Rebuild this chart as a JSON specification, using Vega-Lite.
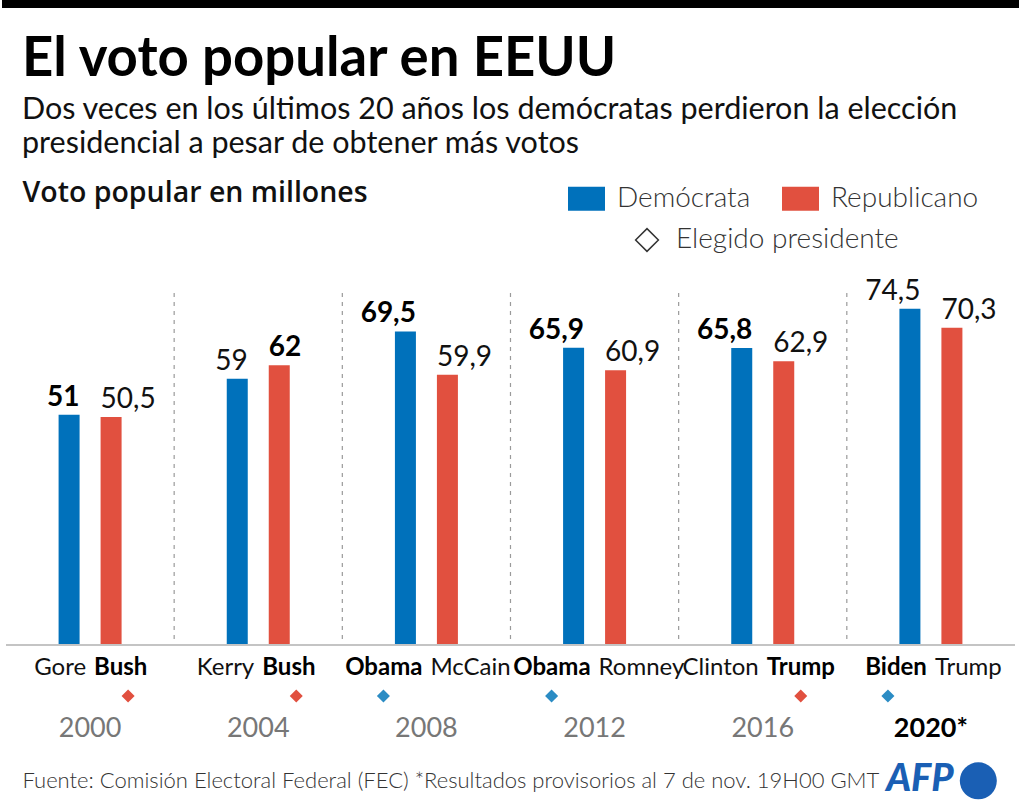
{
  "$schema": "https://vega.github.io/schema/vega-lite/v6.json",
  "width": 1009,
  "height": 361,
  "autosize": {"type": "none"},
  "padding": {"left": 6, "top": 284, "right": 5, "bottom": 167},
  "background": "white",
  "config": {
    "font": "Lato",
    "view": {"stroke": null},
    "locale": {"number": {"decimal": ",", "thousands": ".", "grouping": [3], "currency": ["", " €"]}}
  },
  "title": {
    "text": "El voto popular en EEUU",
    "subtitle": ["Dos veces en los últimos 20 años los demócratas perdieron la elección", "presidencial a pesar de obtener más votos"],
    "anchor": "start",
    "frame": "group",
    "dx": 16,
    "dy": 180,
    "offset": 18,
    "font": "Lato",
    "fontSize": 54.5,
    "fontWeight": "bold",
    "color": "#000000",
    "subtitleFont": "Lato",
    "subtitleFontSize": 30.5,
    "subtitleColor": "#111111",
    "subtitleLineHeight": 34,
    "subtitlePadding": 7
  },
  "data": {
    "values": [
      {"anio": "2000", "partido": "Demócrata", "candidato": "Gore", "votos": 51, "electo": false, "mayoria": true},
      {"anio": "2000", "partido": "Republicano", "candidato": "Bush", "votos": 50.5, "electo": true, "mayoria": false},
      {"anio": "2004", "partido": "Demócrata", "candidato": "Kerry", "votos": 59, "electo": false, "mayoria": false},
      {"anio": "2004", "partido": "Republicano", "candidato": "Bush", "votos": 62, "electo": true, "mayoria": true},
      {"anio": "2008", "partido": "Demócrata", "candidato": "Obama", "votos": 69.5, "electo": true, "mayoria": true},
      {"anio": "2008", "partido": "Republicano", "candidato": "McCain", "votos": 59.9, "electo": false, "mayoria": false},
      {"anio": "2012", "partido": "Demócrata", "candidato": "Obama", "votos": 65.9, "electo": true, "mayoria": true},
      {"anio": "2012", "partido": "Republicano", "candidato": "Romney", "votos": 60.9, "electo": false, "mayoria": false},
      {"anio": "2016", "partido": "Demócrata", "candidato": "Clinton", "votos": 65.8, "electo": false, "mayoria": true},
      {"anio": "2016", "partido": "Republicano", "candidato": "Trump", "votos": 62.9, "electo": true, "mayoria": false},
      {"anio": "2020*", "partido": "Demócrata", "candidato": "Biden", "votos": 74.5, "electo": true, "mayoria": false},
      {"anio": "2020*", "partido": "Republicano", "candidato": "Trump", "votos": 70.3, "electo": false, "mayoria": false}
    ]
  },
  "layer": [
    {
      "mark": {"type": "rule", "color": "#000000", "strokeWidth": 8, "strokeCap": "square"},
      "encoding": {"y": {"datum": 142.1}}
    },
    {
      "transform": [{"filter": "datum.anio != '2000' && datum.partido == 'Demócrata'"}],
      "mark": {"type": "rule", "color": "#9a9a9a", "strokeWidth": 1.2, "strokeDash": [4, 5]},
      "encoding": {
        "x": {"field": "anio", "type": "nominal", "bandPosition": 0},
        "xOffset": {"value": -10.6},
        "y": {"datum": 78},
        "y2": {"datum": 0}
      }
    },
    {
      "mark": {"type": "bar"},
      "encoding": {
        "x": {
          "field": "anio",
          "type": "nominal",
          "scale": {"paddingInner": 0.1259, "paddingOuter": 0.063},
          "axis": {
            "title": "Fuente: Comisión Electoral Federal (FEC) *Resultados provisorios al 7 de nov. 19H00 GMT",
            "titleFont": "Lato",
            "titleFontSize": 22,
            "titleFontWeight": 300,
            "titleColor": "#333333",
            "titleAlign": "left",
            "titleAnchor": "start",
            "titleBaseline": "alphabetic",
            "titleX": 16,
            "titleY": 142,
            "domain": false,
            "ticks": false,
            "tickSize": 0,
            "labelAngle": 0,
            "labelAlign": "center",
            "labelBaseline": "alphabetic",
            "labelPadding": 91,
            "labelFontSize": 27,
            "labelFont": "Lato",
            "labelColor": {"condition": {"test": "datum.value == '2020*'", "value": "#000000"}, "value": "#777777"},
            "labelFontWeight": {"condition": {"test": "datum.value == '2020*'", "value": "bold"}, "value": "normal"}
          }
        },
        "xOffset": {
          "field": "partido",
          "type": "nominal",
          "scale": {"domain": ["Demócrata", "Republicano"], "paddingInner": 0.5, "paddingOuter": 1}
        },
        "y": {
          "field": "votos",
          "type": "quantitative",
          "scale": {"domain": [0, 80], "nice": false},
          "axis": {
            "title": "Voto popular en millones",
            "domain": false,
            "ticks": false,
            "labels": false,
            "grid": false,
            "titleAngle": 0,
            "titleAlign": "left",
            "titleBaseline": "alphabetic",
            "titleX": 16,
            "titleY": -83,
            "titleFont": "Open Sans",
            "titleFontSize": 28.5,
            "titleFontWeight": 600,
            "titleColor": "#111111"
          }
        },
        "color": {
          "field": "partido",
          "type": "nominal",
          "scale": {"domain": ["Demócrata", "Republicano"], "range": ["#0071bb", "#e1503f"]},
          "legend": {
            "title": null,
            "orient": "none",
            "legendX": 562,
            "legendY": -104,
            "direction": "horizontal",
            "symbolType": "M-1,-0.65L1,-0.65L1,0.65L-1,0.65Z",
            "symbolSize": 1369,
            "symbolStrokeWidth": 0,
            "symbolOpacity": 1,
            "labelFont": "Lato",
            "labelFontSize": 28,
            "labelFontWeight": 300,
            "labelColor": "#333333",
            "labelOffset": 12,
            "labelLimit": 0,
            "columnPadding": 31,
            "padding": 0
          }
        }
      }
    },
    {
      "mark": {"type": "rule", "color": "#c4c4c4", "strokeWidth": 2},
      "encoding": {"y": {"datum": 0}}
    },
    {
      "transform": [{"filter": "datum.partido == 'Demócrata' && datum.mayoria"}],
      "mark": {"type": "text", "align": "right", "baseline": "alphabetic", "dx": 10.5, "dy": -9, "fontSize": 28, "fontWeight": "bold", "color": "#000000"},
      "encoding": {
        "x": {"field": "anio", "type": "nominal"},
        "xOffset": {"field": "partido", "type": "nominal"},
        "y": {"field": "votos", "type": "quantitative"},
        "text": {"field": "votos", "type": "quantitative", "format": ".3~g"}
      }
    },
    {
      "transform": [{"filter": "datum.partido == 'Demócrata' && !datum.mayoria"}],
      "mark": {"type": "text", "align": "right", "baseline": "alphabetic", "dx": 10.5, "dy": -9, "fontSize": 28, "fontWeight": "normal", "color": "#111111"},
      "encoding": {
        "x": {"field": "anio", "type": "nominal"},
        "xOffset": {"field": "partido", "type": "nominal"},
        "y": {"field": "votos", "type": "quantitative"},
        "text": {"field": "votos", "type": "quantitative", "format": ".3~g"}
      }
    },
    {
      "transform": [{"filter": "datum.partido == 'Republicano' && datum.mayoria"}],
      "mark": {"type": "text", "align": "left", "baseline": "alphabetic", "dx": -10.5, "dy": -9, "fontSize": 28, "fontWeight": "bold", "color": "#000000"},
      "encoding": {
        "x": {"field": "anio", "type": "nominal"},
        "xOffset": {"field": "partido", "type": "nominal"},
        "y": {"field": "votos", "type": "quantitative"},
        "text": {"field": "votos", "type": "quantitative", "format": ".3~g"}
      }
    },
    {
      "transform": [{"filter": "datum.partido == 'Republicano' && !datum.mayoria"}],
      "mark": {"type": "text", "align": "left", "baseline": "alphabetic", "dx": -10.5, "dy": -9, "fontSize": 28, "fontWeight": "normal", "color": "#111111"},
      "encoding": {
        "x": {"field": "anio", "type": "nominal"},
        "xOffset": {"field": "partido", "type": "nominal"},
        "y": {"field": "votos", "type": "quantitative"},
        "text": {"field": "votos", "type": "quantitative", "format": ".3~g"}
      }
    },
    {
      "transform": [{"filter": "datum.partido == 'Demócrata' && datum.electo"}],
      "mark": {"type": "text", "align": "right", "baseline": "alphabetic", "dx": -4, "dy": 30, "fontSize": 24, "fontWeight": "bold", "color": "#000000"},
      "encoding": {
        "x": {"field": "anio", "type": "nominal"},
        "y": {"datum": 0},
        "text": {"field": "candidato"}
      }
    },
    {
      "transform": [{"filter": "datum.partido == 'Demócrata' && !datum.electo"}],
      "mark": {"type": "text", "align": "right", "baseline": "alphabetic", "dx": -4, "dy": 30, "fontSize": 24, "fontWeight": "normal", "color": "#111111"},
      "encoding": {
        "x": {"field": "anio", "type": "nominal"},
        "y": {"datum": 0},
        "text": {"field": "candidato"}
      }
    },
    {
      "transform": [{"filter": "datum.partido == 'Republicano' && datum.electo"}],
      "mark": {"type": "text", "align": "left", "baseline": "alphabetic", "dx": 4, "dy": 30, "fontSize": 24, "fontWeight": "bold", "color": "#000000"},
      "encoding": {
        "x": {"field": "anio", "type": "nominal"},
        "y": {"datum": 0},
        "text": {"field": "candidato"}
      }
    },
    {
      "transform": [{"filter": "datum.partido == 'Republicano' && !datum.electo"}],
      "mark": {"type": "text", "align": "left", "baseline": "alphabetic", "dx": 4, "dy": 30, "fontSize": 24, "fontWeight": "normal", "color": "#111111"},
      "encoding": {
        "x": {"field": "anio", "type": "nominal"},
        "y": {"datum": 0},
        "text": {"field": "candidato"}
      }
    },
    {
      "transform": [{"filter": "false"}],
      "mark": {"type": "point", "filled": false, "opacity": 1, "color": "#333333", "strokeWidth": 1.5, "size": 520},
      "encoding": {
        "x": {"field": "anio", "type": "nominal"},
        "y": {"datum": 0},
        "shape": {
          "datum": "Elegido presidente",
          "type": "nominal",
          "scale": {"range": ["diamond"]},
          "legend": {
            "title": null,
            "orient": "none",
            "legendX": 627,
            "legendY": -58,
            "symbolSize": 520,
            "symbolStrokeWidth": 1.5,
            "labelFont": "Lato",
            "labelFontSize": 28,
            "labelFontWeight": 300,
            "labelColor": "#333333",
            "labelOffset": 15,
            "labelLimit": 0,
            "padding": 0
          }
        }
      }
    },
    {
      "transform": [{"filter": "datum.partido == 'Demócrata' && datum.electo"}],
      "mark": {"type": "point", "shape": "diamond", "filled": true, "opacity": 1, "color": "#2b8cc4", "size": 170},
      "encoding": {
        "x": {"field": "anio", "type": "nominal"},
        "xOffset": {"value": 30.5},
        "y": {"datum": 0},
        "yOffset": {"value": 51}
      }
    },
    {
      "transform": [{"filter": "datum.partido == 'Republicano' && datum.electo"}],
      "mark": {"type": "point", "shape": "diamond", "filled": true, "opacity": 1, "color": "#e1503f", "size": 170},
      "encoding": {
        "x": {"field": "anio", "type": "nominal"},
        "xOffset": {"value": 111.5},
        "y": {"datum": 0},
        "yOffset": {"value": 51}
      }
    },
    {
      "data": {"values": [{"logo": "AFP"}]},
      "mark": {"type": "text", "align": "center", "baseline": "middle", "dx": -11, "fontSize": 38, "fontStyle": "italic", "fontWeight": 900, "color": "#1a5fb4"},
      "encoding": {
        "x": {"datum": "2020*"},
        "y": {"datum": -30},
        "text": {"field": "logo"}
      }
    },
    {
      "data": {"values": [{"logo": "AFP"}]},
      "mark": {"type": "point", "shape": "circle", "filled": true, "opacity": 1, "color": "#1a5fb4", "size": 1369},
      "encoding": {
        "x": {"datum": "2020*"},
        "xOffset": {"value": 120.9},
        "y": {"datum": -30.1}
      }
    }
  ]
}
